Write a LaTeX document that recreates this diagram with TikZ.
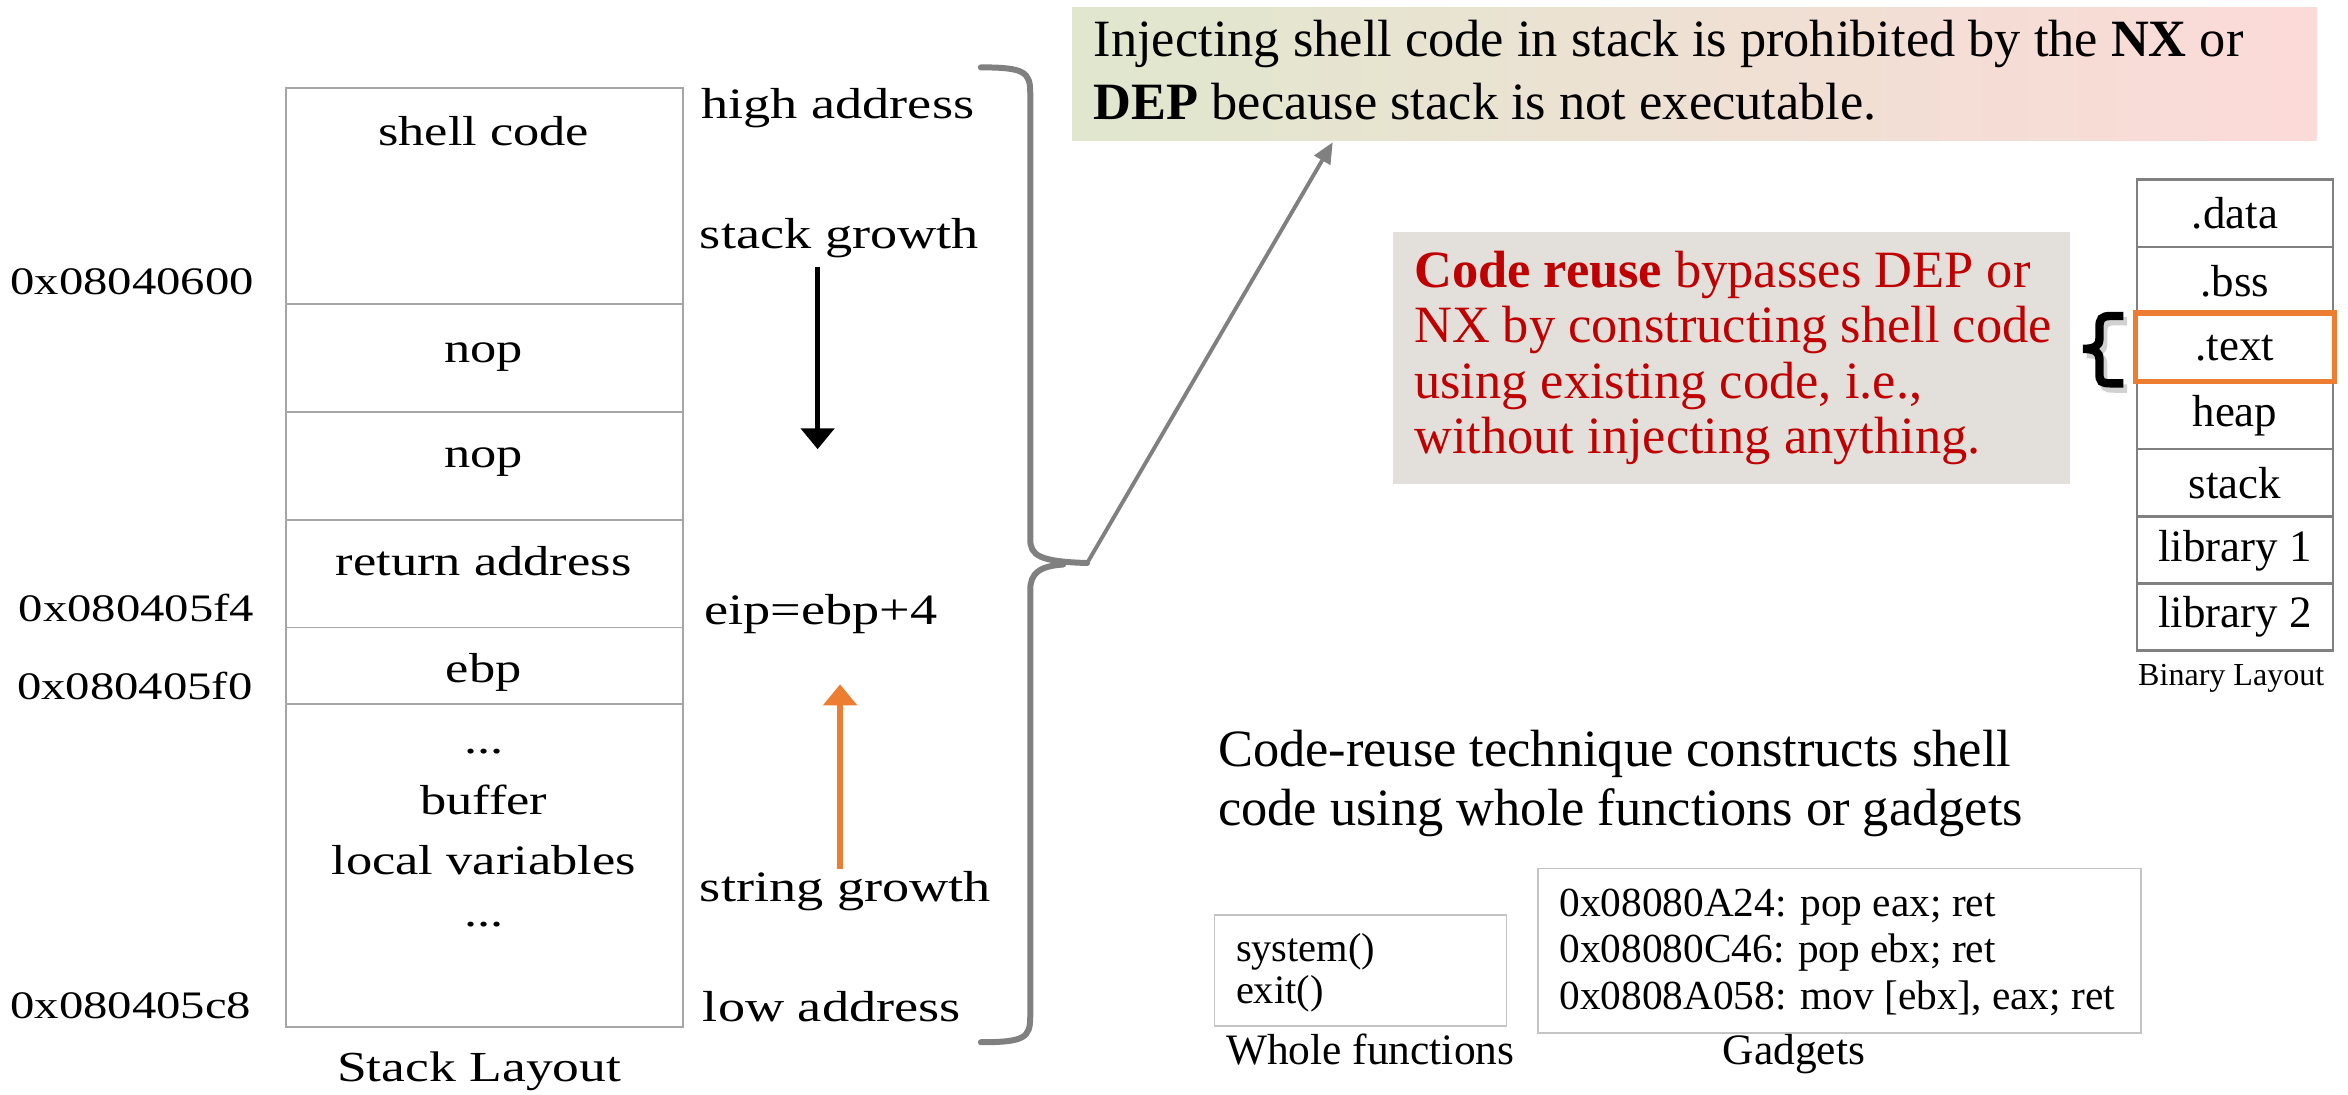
\documentclass[tikz,border=0pt]{standalone}
\usepackage{fontspec}
\setmainfont{Liberation Serif}
\newfontfamily\wideserif[FakeStretch=1.25]{Liberation Serif}
\usetikzlibrary{arrows.meta,fit}
\definecolor{framegray}{HTML}{A6A6A6}
\definecolor{boxgray}{HTML}{C4C4C4}
\definecolor{bracegray}{HTML}{808080}
\definecolor{accentorange}{HTML}{ED7D31}
\definecolor{alertred}{HTML}{C00000}
\definecolor{paper}{HTML}{E3E0DC}
\definecolor{mintleft}{HTML}{E0E7CE}
\definecolor{roseright}{HTML}{FCDAD8}
\begin{document}
\begin{tikzpicture}[x=0.5pt,y=-0.5pt,
  stackcell/.style={draw=framegray, line width=0.6pt, inner sep=0pt},
  stacktext/.style={font=\wideserif\fontsize{14}{16}\selectfont, inner sep=0pt, anchor=base},
  sidelabel/.style={font=\wideserif\fontsize{14.5}{16}\selectfont, inner sep=0pt, anchor=base west},
  addrlabel/.style={font=\wideserif\fontsize{13}{15}\selectfont, inner sep=0pt, anchor=base east},
  bincell/.style={draw=bracegray, line width=0.8pt, minimum width=65.5pt, minimum height=22.5pt,
    inner sep=0pt, font=\fontsize{15}{17}\selectfont},
  bigtext/.style={inner sep=0pt, anchor=base west, align=left},
  smalltext/.style={inner sep=0pt, anchor=base, font=\fontsize{14.5}{16}\selectfont},
  codebox/.style={draw=boxgray, line width=0.6pt, inner sep=0pt},
]
\useasboundingbox (0,0) rectangle (1568,731);

% ---- stack frame cells
\node[stackcell, fit={(191,59) (456,203)}] (shell) {};
\node[stackcell, fit={(191,203) (456,275)}] (nopa) {};
\node[stackcell, fit={(191,275) (456,347)}] (nopb) {};
\node[stackcell, fit={(191,347) (456,419)}] (ret) {};
\node[stackcell, fit={(191,419) (456,470)}] (ebp) {};
\node[stackcell, fit={(191,470) (456,686)}] (buf) {};

\node[stacktext] (tshell) at (323,97) {shell code};
\node[stacktext] (tnopa) at (323,242) {nop};
\node[stacktext] (tnopb) at (323,312) {nop};
\node[stacktext] (tret) at (323,384) {return address};
\node[stacktext] (tebp) at (323,456) {ebp};
\node[stacktext] (tdots) at (323,503) {...};
\node[stacktext] (tbuf) at (323,544) {buffer};
\node[stacktext] (tlocal) at (323,584) {local variables};
\node[stacktext] (tdotsb) at (323,619) {...};
\node[stacktext, font=\wideserif\fontsize{14.3}{16}\selectfont] (stackcap) at (320,722) {Stack Layout};

% ---- addresses
\node[addrlabel] (a600) at (170,197) {0x08040600};
\node[addrlabel] (a5f4) at (170,415) {0x080405f4};
\node[addrlabel] (a5f0) at (169,467) {0x080405f0};
\node[addrlabel] (a5c8) at (168,680) {0x080405c8};

% ---- side labels
\node[sidelabel] (hi) at (468,79) {high address};
\node[sidelabel] (sg) at (467,166) {stack growth};
\node[sidelabel] (eip) at (470,417) {eip=ebp+4};
\node[sidelabel] (strg) at (467,602) {string growth};
\node[sidelabel] (lo) at (469,682) {low address};

% ---- growth arrows
\coordinate (sgtop) at (546,178);
\coordinate (sgbot) at (546,300);
\draw[line width=1.8pt, -{Triangle[width=11pt,length=7pt]}] (sgtop) -- (sgbot);
\coordinate (strbot) at (561,580);
\coordinate (strtop) at (561,457);
\draw[accentorange, line width=2pt, -{Triangle[width=11pt,length=7pt]}] (strbot) -- (strtop);

% ---- big brace around the labels
\coordinate (tip) at (726,376);
\draw[bracegray, line width=2pt, line cap=round]
  (655,45) .. controls (684,45) and (688,48) .. (688,62) -- (688,360)
  .. controls (688,371) and (694,375) .. (tip);
\draw[bracegray, line width=2pt, line cap=round]
  (655,696) .. controls (684,696) and (688,693) .. (688,679) -- (688,394)
  .. controls (688,383) and (694,378) .. (710,377);

% ---- NX / DEP note
\node[fit={(716,5) (1547,94)}, inner sep=0pt, left color=mintleft, right color=roseright] (injbox) {};
\node[bigtext, font=\fontsize{17.5}{21}\selectfont] (injtext) at (730,80)
  {Injecting shell code in stack is prohibited by the \textbf{NX} or\\\textbf{DEP} because stack is not executable.};
\coordinate (injpt) at (890,95);
\draw[bracegray, line width=1.3pt, -{Triangle[width=6pt,length=7pt]}] (tip) -- (injpt);

% ---- code reuse note
\node[fit={(930,155) (1382,323)}, inner sep=0pt, fill=paper] (reusebox) {};
\node[bigtext, text=alertred, font=\fontsize{17.5}{18.5}\selectfont] (reusetext) at (944,303)
  {\textbf{Code reuse} bypasses DEP or\\NX by constructing shell code\\using existing code, i.e.,\\without injecting anything.};

% ---- binary layout
\node[bincell] (sdata) at (1492.5,142.5) {.data};
\node[bincell] (sbss) at (1492.5,187.5) {.bss};
\node[bincell] (stext) at (1492.5,232.5) {.text};
\node[bincell] (sheap) at (1492.5,277.5) {heap};
\node[bincell] (sstack) at (1492.5,322.5) {stack};
\node[bincell] (slib1) at (1492.5,367.5) {library 1};
\node[bincell] (slib2) at (1492.5,412) {library 2};
\node[draw=accentorange, line width=1.7pt, fit={(1426,209) (1559,255)}, inner sep=0pt] (textmark) {};
\node[smalltext, font=\fontsize{10.7}{12}\selectfont] (bincap) at (1490,458) {Binary Layout};

% bold brace marking the .text section, with a soft shadow
\foreach \dx/\dy/\col/\op in {2.5/3.5/black/0.18, 0/0/black/1}
  \draw[\col, opacity=\op, line width=2.8pt, shift={(\dx,\dy)}]
    (1418,211) -- (1410,211) .. controls (1403,211) and (1402,213) .. (1402,219)
    -- (1402,226) .. controls (1402,231) and (1399,233) .. (1391,233)
    .. controls (1399,233) and (1402,235) .. (1402,240)
    -- (1402,249) .. controls (1402,255) and (1403,256) .. (1410,256) -- (1418,256);

% ---- code reuse summary
\node[bigtext, font=\fontsize{17.5}{19.5}\selectfont] (crtext) at (813,551)
  {Code-reuse technique constructs shell\\code using whole functions or gadgets};

\node[codebox, fit={(811,611) (1006,685)}] (funcbox) {};
\node[bigtext, font=\fontsize{13.5}{14}\selectfont] (functext) at (825,670) {system()\\exit()};
\node[smalltext] (funccap) at (915,711) {Whole functions};

\node[codebox, fit={(1027,580) (1430,690)}] (gadbox) {};
\node[bigtext, font=\fontsize{13.8}{15.5}\selectfont] (gadtext) at (1041,674)
  {0x08080A24: pop eax; ret\\0x08080C46: pop ebx; ret\\0x0808A058: mov [ebx], eax; ret};
\node[smalltext] (gadcap) at (1198,711) {Gadgets};
\end{tikzpicture}
\end{document}
